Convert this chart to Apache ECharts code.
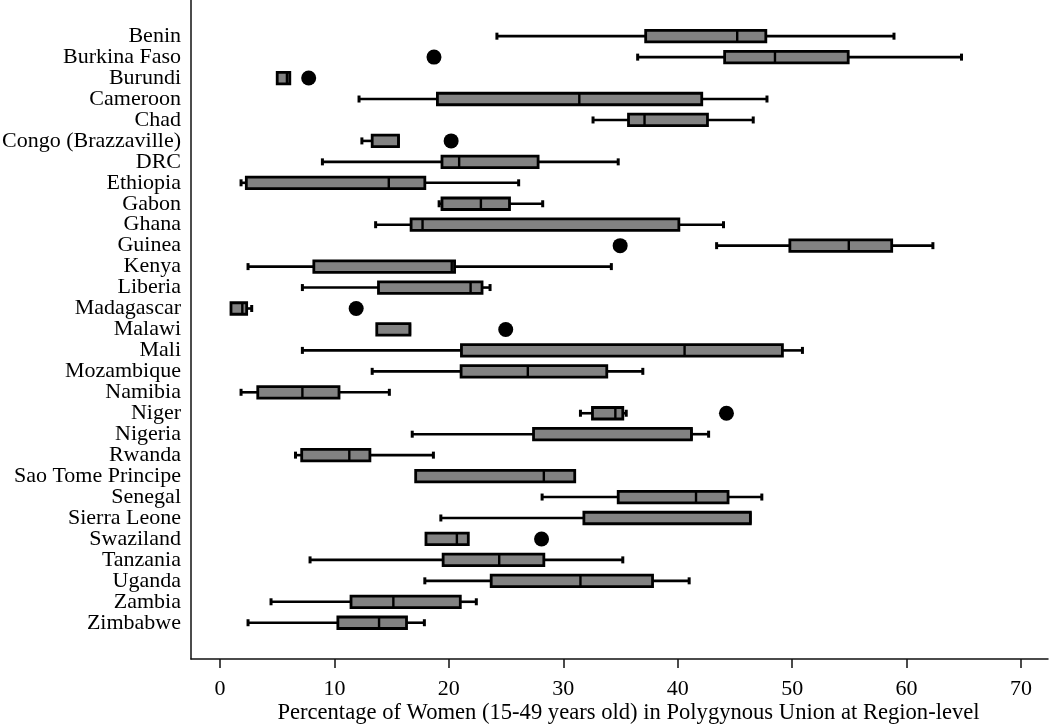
<!DOCTYPE html>
<html>
<head>
<meta charset="utf-8">
<script src="https://cdn.jsdelivr.net/npm/echarts@6/dist/echarts.min.js"></script>
<style>html,body{margin:0;padding:0;background:#fff}#chart{width:1050px;height:724px}</style>
</head>
<body>
<div id="chart"></div>
<script>
const categories = ["Benin","Burkina Faso","Burundi","Cameroon","Chad","Congo (Brazzaville)","DRC","Ethiopia","Gabon","Ghana","Guinea","Kenya","Liberia","Madagascar","Malawi","Mali","Mozambique","Namibia","Niger","Nigeria","Rwanda","Sao Tome Principe","Senegal","Sierra Leone","Swaziland","Tanzania","Uganda","Zambia","Zimbabwe"];
// lower whisker (equal to q1 when absent)
const lowWhisker = [24.2,36.5,5.0,12.15,32.6,12.4,8.95,1.84,19.15,13.6,43.4,2.45,7.2,0.96,13.7,7.2,13.3,1.84,31.5,16.8,6.6,17.1,28.15,19.3,18.0,7.87,17.9,4.46,2.45];
const q1 = [37.2,44.1,5.0,19.0,35.7,13.3,19.4,2.3,19.4,16.7,49.8,8.2,13.85,0.96,13.7,21.1,21.07,3.3,32.55,27.4,7.14,17.1,34.8,31.8,18.0,19.5,23.7,11.45,10.3];
const median = [45.2,48.5,5.85,31.4,37.1,15.6,20.9,14.75,22.8,17.7,54.95,20.25,21.9,1.95,16.6,40.6,26.9,7.2,34.55,41.2,11.3,28.3,41.6,46.35,20.7,24.4,31.5,15.15,13.9];
const q3 = [47.7,54.9,6.1,42.1,42.6,15.6,27.8,17.9,25.3,40.1,58.7,20.5,22.9,2.33,16.6,49.15,33.8,10.4,35.2,41.2,13.1,31.0,44.4,46.35,21.7,28.3,37.8,21.0,16.3];
// upper whisker (equal to q3 when absent)
const highWhisker = [58.9,64.8,6.1,47.8,46.6,15.6,34.8,26.1,28.2,44.0,62.3,34.2,23.6,2.77,16.6,50.9,36.95,14.8,35.5,42.7,18.65,31.0,47.35,46.35,21.7,35.2,41.0,22.4,17.86];
// outliers: [category, value]
const outlierCountries = ["Burkina Faso","Burundi","Congo (Brazzaville)","Guinea","Madagascar","Malawi","Niger","Swaziland"];
const outlierValues = [18.7,7.75,20.2,34.97,11.9,24.97,44.26,28.1];
const xTicks = [0,10,20,30,40,50,60,70];

const boxData = categories.map((c,i)=>[i, lowWhisker[i], q1[i], median[i], q3[i], highWhisker[i]]);
const outData = outlierCountries.map((c,i)=>[outlierValues[i], categories.indexOf(c)]);

const FONT = "'Liberation Serif','Times New Roman',serif";

function renderBox(params, api){
  const idx = api.value(0);
  const lo = api.value(1), a = api.value(2), m = api.value(3), b = api.value(4), hi = api.value(5);
  const pLo = api.coord([lo, idx]), pA = api.coord([a, idx]), pM = api.coord([m, idx]), pB = api.coord([b, idx]), pHi = api.coord([hi, idx]);
  const y = pA[1];
  const bh = 11.5, ch = 3.5;
  const ls = {stroke:'#000', lineWidth:2.6};
  const cs = {stroke:'#000', lineWidth:3};
  const children = [];
  if (pA[0] - pLo[0] > 0.5) {
    children.push({type:'line', shape:{x1:pLo[0], y1:y, x2:pA[0], y2:y}, style:ls});
    children.push({type:'line', shape:{x1:pLo[0], y1:y-ch, x2:pLo[0], y2:y+ch}, style:cs});
  }
  if (pHi[0] - pB[0] > 0.5) {
    children.push({type:'line', shape:{x1:pB[0], y1:y, x2:pHi[0], y2:y}, style:ls});
    children.push({type:'line', shape:{x1:pHi[0], y1:y-ch, x2:pHi[0], y2:y+ch}, style:cs});
  }
  children.push({type:'rect', shape:{x:pA[0], y:y-bh/2, width:pB[0]-pA[0], height:bh}, style:{fill:'#828282', stroke:'#000', lineWidth:2.8}});
  children.push({type:'line', shape:{x1:pM[0], y1:y-bh/2, x2:pM[0], y2:y+bh/2}, style:{stroke:'#000', lineWidth:2.4}});
  return {type:'group', children};
}

const chart = echarts.init(document.getElementById('chart'));
chart.setOption({
  animation:false,
  backgroundColor:'#fff',
  grid:[
    {left:191, top:0, right:2, bottom:65, outerBoundsMode:'none', containLabel:false},
    {left:220, top:25.7, right:29, height:607.5, outerBoundsMode:'none', containLabel:false}
  ],
  xAxis:[
    {gridIndex:0, type:'value', min:0, max:1, axisLine:{show:true, lineStyle:{color:'#111', width:1.5}}, axisTick:{show:false}, axisLabel:{show:false}, splitLine:{show:false}},
    {gridIndex:1, type:'value', min:0, max:70, interval:10, offset:25.8,
     axisLine:{show:false}, axisTick:{show:true, length:9, lineStyle:{color:'#111', width:1.5}},
     axisLabel:{color:'#000', fontFamily:FONT, fontSize:22, margin:19, formatter:v=>xTicks.includes(v)?String(v):''},
     splitLine:{show:false},
     name:'Percentage of Women (15-49 years old) in Polygynous Union at Region-level',
     nameLocation:'middle', nameGap:43, nameMoveOverlap:false,
     nameTextStyle:{color:'#000', fontFamily:FONT, fontSize:22.6, padding:[0,0,0,16]}}
  ],
  yAxis:[
    {gridIndex:0, type:'value', min:0, max:1, axisLine:{show:true, lineStyle:{color:'#111', width:1.5}}, axisTick:{show:false}, axisLabel:{show:false}, splitLine:{show:false}},
    {gridIndex:1, type:'category', data:categories, inverse:true,
     axisLine:{show:false}, axisTick:{show:false}, splitLine:{show:false},
     axisLabel:{color:'#000', fontFamily:FONT, fontSize:22, margin:39, interval:0, padding:[6,0,0,0]}}
  ],
  series:[
    {type:'custom', xAxisIndex:1, yAxisIndex:1, data:boxData, renderItem:renderBox,
     encode:{x:[1,2,3,4,5], y:0}, clip:false},
    {type:'scatter', xAxisIndex:1, yAxisIndex:1, data:outData, symbol:'circle', symbolSize:15,
     itemStyle:{color:'#000', opacity:1}}
  ]
});
</script>
</body>
</html>
